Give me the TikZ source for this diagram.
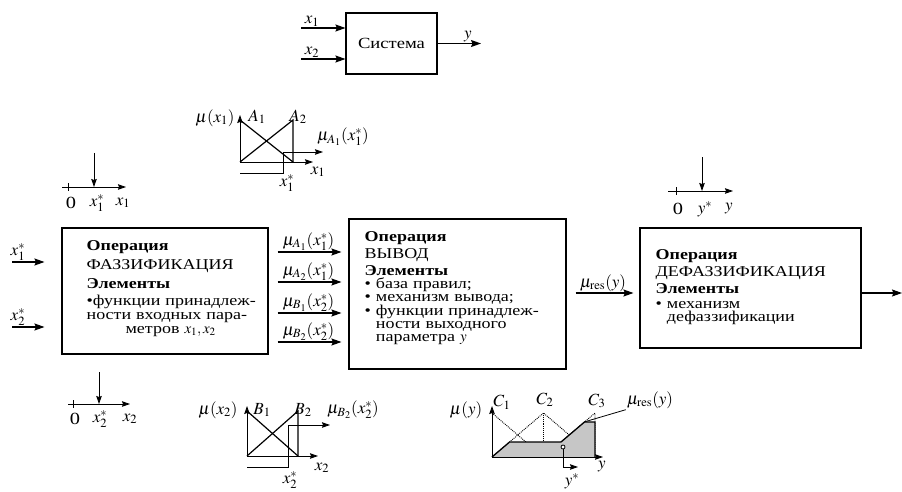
\documentclass[tikz,border=0pt]{standalone}
\usepackage{mathptmx}
\usepackage{fontspec}
\setmainfont[FakeStretch=1.2]{Liberation Serif}
\usetikzlibrary{arrows.meta,positioning}
\lineskiplimit=-10pt
\tikzset{
  box/.style={draw,line width=1.1pt},
  txt/.style={align=left,inner sep=0pt,font=\fontsize{15}{13}\selectfont},
  arr/.style={-{Stealth[length=10pt,width=7pt,inset=1.5pt]},line width=1.1pt},
  ax/.style={-{Stealth[length=8pt,width=5.5pt,inset=1pt]},line width=0.9pt},
  mf/.style={line width=1.2pt},
  dots/.style={densely dotted,line width=0.9pt},
  lbl/.style={inner sep=1pt,font=\fontsize{17}{17}\selectfont},
}

\begin{document}
\begin{tikzpicture}[x=1pt,y=-1pt]
  \useasboundingbox (0,0) rectangle (902,492);

  % system
  \node[box,minimum width=91pt,minimum height=61pt,font=\fontsize{15.5}{15.5}\selectfont] (sys) at (391.5,43.5) {Система};
  \coordinate (sx1) at (301,28);
  \coordinate (sx2) at (301,59);
  \coordinate (sy) at (481,43.5);
  \draw[arr] (sx1) -- (sys.west |- sx1) node[lbl,above,pos=0.25] (lx1) {$x_1$};
  \draw[arr] (sx2) -- (sys.west |- sx2) node[lbl,above,pos=0.25] (lx2) {$x_2$};
  \draw[arr] (sys) -- (sy) node[lbl,above,pos=0.7] (ly) {$y$};

  % blocks
  \node[box,minimum width=206pt,minimum height=126pt] (fuzz) at (165,291) {};
  \node[box,minimum width=217pt,minimum height=150pt] (infer) at (457.5,294) {};
  \node[box,minimum width=221pt,minimum height=120pt] (defuzz) at (750.5,288) {};
  \node[txt,text width=180pt,font=\fontsize{15}{14}\selectfont,
        below right=13pt and 25pt of fuzz.north west] (fuzzt)
    {\textbf{Операция}\\[5pt]ФАЗЗИФИКАЦИЯ\\[5pt]\textbf{Элементы}\\[3pt]
     •функции принадлеж-\\ности входных пара-\\
     \hspace*{\fill}метров $x_1, x_2$\hspace*{\fill}\hspace*{12pt}\null};
  \node[txt,text width=200pt,below right=12.5pt and 16pt of infer.north west] (infert)
    {\textbf{Операция}\\[3pt]ВЫВОД\\[3pt]\textbf{Элементы}\\
     • база правил;\\• механизм вывода;\\• функции принадлеж-\\
     \phantom{•~}ности выходного\\\phantom{•~}параметра $y$};
  \node[txt,text width=200pt,below right=21.5pt and 16pt of defuzz.north west] (defuzzt)
    {\textbf{Операция}\\[3pt]ДЕФАЗЗИФИКАЦИЯ\\[3pt]\textbf{Элементы}\\[2pt]
     • механизм\\\phantom{•~}дефаззификации};

  % connectors
  \coordinate (in1) at (12,262);
  \coordinate (in2) at (12,327);
  \draw[arr,shorten >=17pt] (in1) -- (fuzz.west |- in1) node[lbl,above,pos=0.12] (lin1) {$x_1^*$};
  \draw[arr,shorten >=17pt] (in2) -- (fuzz.west |- in2) node[lbl,above,pos=0.12] (lin2) {$x_2^*$};
  \draw[arr,shorten <=9pt,shorten >=7pt] (fuzz.east |- 0,252) -- (infer.west |- 0,252)
    node[lbl,midway,above] (la1) {$\mu_{A_1}(x_1^*)$};
  \draw[arr,shorten <=9pt,shorten >=7pt] (fuzz.east |- 0,282) -- (infer.west |- 0,282)
    node[lbl,midway,above] (la2) {$\mu_{A_2}(x_1^*)$};
  \draw[arr,shorten <=9pt,shorten >=7pt] (fuzz.east |- 0,313) -- (infer.west |- 0,313)
    node[lbl,midway,above] (lb1) {$\mu_{B_1}(x_2^*)$};
  \draw[arr,shorten <=9pt,shorten >=7pt] (fuzz.east |- 0,342) -- (infer.west |- 0,342)
    node[lbl,midway,above] (lb2) {$\mu_{B_2}(x_2^*)$};
  \draw[arr,shorten <=9pt,shorten >=6pt] (infer.east |- 0,293) -- (defuzz.west |- 0,293)
    node[lbl,midway,above] (lres) {$\mu_{\mathrm{res}}(y)$};
  \coordinate (out) at (902,293);
  \draw[arr] (defuzz.east |- out) -- (out);

  % crisp axes
  \draw[ax] (62,187) -- (126,187);
  \draw[line width=0.9pt] (68,183) -- (68,191);
  \draw[ax] (94,153) -- (94,187);
  \node[lbl] (z1) at (71,203) {0};
  \node[lbl] (s1) at (97,203) {$x_1^*$};
  \node[lbl] (t1) at (123,203) {$x_1$};
  \draw[ax] (68,404) -- (130,404);
  \draw[line width=0.9pt] (73,400) -- (73,408);
  \draw[ax] (99,372) -- (99,404);
  \node[lbl] (z2) at (75,419) {0};
  \node[lbl] (s2) at (100,419) {$x_2^*$};
  \node[lbl] (t2) at (130,419) {$x_2$};
  \draw[ax] (668,191) -- (733,191);
  \draw[line width=0.9pt] (676,187) -- (676,195);
  \draw[ax] (702,157) -- (702,191);
  \node[lbl] (z3) at (678,209) {0};
  \node[lbl] (s3) at (705,209) {$y^*$};
  \node[lbl] (t3) at (729,209) {$y$};

  % mu(x1)
  \begin{scope}[shift={(240,162)}]
    \draw[ax] (0,0) -- (0,-47);
    \draw[ax] (0,0) -- (73,0);
    \draw[mf] (0,-42) -- (53,0);
    \draw[mf] (0,0) -- (53,-42) -- (53,0);
    \draw[line width=0.8pt] (0,11) -- (43,11) -- (43,-10);
    \draw[ax] (43,-10) -- (83,-10);
    \node[lbl] (mx1) at (-25,-44) {$\mu(x_1)$};
    \node[lbl] (na1) at (17,-45) {$A_1$};
    \node[lbl] (na2) at (58,-45) {$A_2$};
    \node[lbl] (ma1) at (103,-25) {$\mu_{A_1}(x_1^*)$};
    \node[lbl] (ax1) at (78,10) {$x_1$};
    \node[lbl] (as1) at (47,21) {$x_1^*$};
  \end{scope}

  % mu(x2)
  \begin{scope}[shift={(247,456)}]
    \draw[ax] (0,0) -- (0,-50);
    \draw[ax] (0,0) -- (71,0);
    \draw[mf] (0,-45) -- (51,0);
    \draw[mf] (0,0) -- (51,-45) -- (51,0);
    \draw[line width=0.8pt] (0,11) -- (41,11) -- (41,-31);
    \draw[ax] (41,-31) -- (83,-31);
    \node[lbl] (mx2) at (-29,-46) {$\mu(x_2)$};
    \node[lbl] (nb1) at (15,-46) {$B_1$};
    \node[lbl] (nb2) at (56,-46) {$B_2$};
    \node[lbl] (mb2) at (106,-46) {$\mu_{B_2}(x_2^*)$};
    \node[lbl] (ax2) at (75,12) {$x_2$};
    \node[lbl] (as2) at (43,24) {$x_2^*$};
  \end{scope}

  % mu(y)
  \begin{scope}[shift={(492,457)}]
    \draw[dots] (0,-44) -- (51.5,0);
    \draw[dots] (0,0) -- (51.5,-44) -- (103,0);
    \draw[dots] (51.5,-44) -- (51.5,0);
    \draw[dots] (51.5,0) -- (103,-44) -- (103,0);
    \fill[gray!45] (0,0) -- (17.6,-15) -- (69,-15) -- (92.5,-35) -- (103,-35) -- (103,0) -- cycle;
    \draw[line width=1.3pt] (0,0) -- (17.6,-15) -- (69,-15) -- (92.5,-35) -- (103,-35) -- (103,0);
    \draw[ax] (0,0) -- (0,-51);
    \draw[ax] (0,0) -- (111,0);
    \draw[line width=0.8pt] (71,-8) -- (71,10);
    \draw[ax] (71,10) -- (86,10);
    \draw[line width=0.8pt,fill=white] (71,-10) circle (2pt);
    \node[lbl] (my) at (-26,-47) {$\mu(y)$};
    \node[lbl] (nc1) at (10,-55) {$C_1$};
    \node[lbl] (nc2) at (53,-57) {$C_2$};
    \node[lbl] (nc3) at (105,-56) {$C_3$};
    \node[lbl] (mres) at (158,-57) {$\mu_{\mathrm{res}}(y)$};
    \coordinate (restop) at (92,-35);
    \node[lbl] (ay) at (110,10) {$y$};
    \node[lbl] (ays) at (80,24) {$y^*$};
  \end{scope}
  \draw[line width=0.8pt] (mres.south west) -- (restop);
\end{tikzpicture}
\end{document}
